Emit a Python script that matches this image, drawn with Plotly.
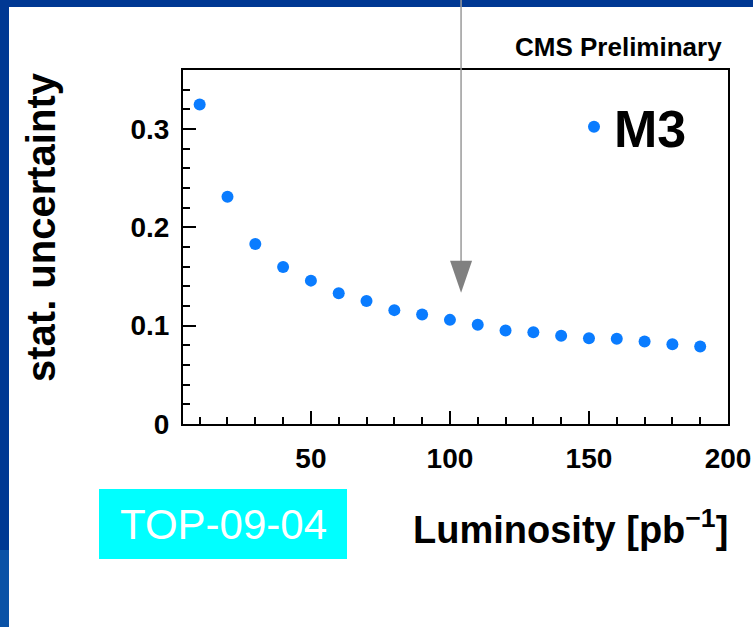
import plotly.graph_objects as go

# ---- data ----
luminosity = [10, 20, 30, 40, 50, 60, 70, 80, 90, 100, 110, 120, 130, 140, 150, 160, 170, 180, 190]
stat_unc = [0.325, 0.231, 0.183, 0.1596, 0.1458, 0.1329, 0.1251, 0.1158, 0.1113, 0.1059, 0.1009,
            0.0952, 0.0934, 0.0898, 0.0873, 0.0866, 0.0839, 0.0812, 0.0788]
series_name = "M3"
x_ticks = [50, 100, 150, 200]
y_ticks = [0, 0.1, 0.2, 0.3]
arrow_x, arrow_y = 104, 0.1334

# ---- layout geometry ----
W, H = 753, 627
L, R, T, B = 183, 25, 70, 203
pw, ph = W - L - R, H - T - B


def px(x):
    return (x - L) / pw


def py(y):
    return (H - B - y) / ph


FONT = "Liberation Sans, Arial, Helvetica, sans-serif"
BLUE = "#0a7cff"

fig = go.Figure()
fig.add_trace(go.Scatter(
    x=luminosity, y=stat_unc, mode="markers", name=series_name,
    marker=dict(color=BLUE, size=12, line=dict(width=0)),
))

axis_common = dict(
    showgrid=False, zeroline=False, showline=True, linecolor="black", linewidth=2,
    mirror=True, ticks="inside", tickcolor="black", tickwidth=2, ticklen=13,
    automargin=False,
    tickfont=dict(family=FONT, size=28, color="black", weight="bold"),
)

fig.update_xaxes(range=[4, 200], tickvals=x_ticks, ticktext=[str(v) for v in x_ticks],
                 minor=dict(ticks="inside", dtick=10, tick0=0, ticklen=7, tickwidth=2, tickcolor="black"),
                 ticklabelstandoff=8, **axis_common)
fig.update_yaxes(range=[0, 0.36], tickvals=y_ticks, ticktext=["0", "0.1", "0.2", "0.3"],
                 minor=dict(ticks="inside", dtick=0.02, tick0=0, ticklen=7, tickwidth=2, tickcolor="black"),
                 ticklabelstandoff=6, **axis_common)

shapes = [
    # slide frame (blue bands)
    dict(type="rect", xref="paper", yref="paper", x0=px(0), x1=px(W), y0=py(0), y1=py(7),
         fillcolor="#003893", line=dict(width=0), layer="below"),
    dict(type="rect", xref="paper", yref="paper", x0=px(0), x1=px(9), y0=py(0), y1=py(H),
         fillcolor="#003893", line=dict(width=0), layer="below"),
    dict(type="rect", xref="paper", yref="paper", x0=px(0), x1=px(9), y0=py(550), y1=py(H),
         fillcolor="#0a52a6", line=dict(width=0), layer="below"),
    # TOP-09-04 box
    dict(type="rect", xref="paper", yref="paper", x0=px(99), x1=px(347), y0=py(489), y1=py(559),
         fillcolor="#00ffff", line=dict(width=0)),
    # arrow line
    dict(type="line", xref="x", yref="paper", x0=arrow_x, x1=arrow_x, y0=py(0), y1=py(262),
         line=dict(color="#9a9a9a", width=1.5)),
    # arrow head
    dict(type="path", xref="x", yref="y", xsizemode="pixel", ysizemode="pixel",
         xanchor=arrow_x, yanchor=arrow_y, path="M -11,32 L 11,32 L 0,0 Z",
         fillcolor="#808080", line=dict(width=0)),
]
fig.update_layout(shapes=shapes)

annotations = [
    dict(text="CMS Preliminary", xref="paper", yref="paper", x=px(724), y=py(47),
         xanchor="right", yanchor="middle", showarrow=False,
         font=dict(family=FONT, size=26, color="black", weight="bold")),
    dict(text="stat. uncertainty", xref="paper", yref="paper", x=px(41), y=py(227),
         xanchor="center", yanchor="middle", textangle=-90, showarrow=False,
         font=dict(family=FONT, size=40, color="black", weight="bold")),
    dict(text="Luminosity [pb<sup>−1</sup>]", xref="paper", yref="paper", x=px(730), y=py(527),
         xanchor="right", yanchor="middle", showarrow=False,
         font=dict(family=FONT, size=38, color="black", weight="bold")),
    dict(text="TOP-09-04", xref="paper", yref="paper", x=px(223), y=py(524),
         xanchor="center", yanchor="middle", showarrow=False,
         font=dict(family=FONT, size=42, color="white")),
]
fig.update_layout(annotations=annotations)

fig.update_layout(
    width=W, height=H,
    margin=dict(l=L, r=R, t=T, b=B, pad=0, autoexpand=False),
    paper_bgcolor="white", plot_bgcolor="white",
    showlegend=True,
    legend=dict(x=px(574), y=py(127), xanchor="left", yanchor="middle",
                bgcolor="rgba(0,0,0,0)", borderwidth=0,
                font=dict(family=FONT, size=52, color="black", weight="bold")),
)

fig.write_html(
    "out.html",
    config={"displayModeBar": False},
    post_script=(
        "document.body.style.margin='0';"
        "document.body.style.overflow='hidden';"
        "document.documentElement.style.overflow='hidden';"
    ),
)
